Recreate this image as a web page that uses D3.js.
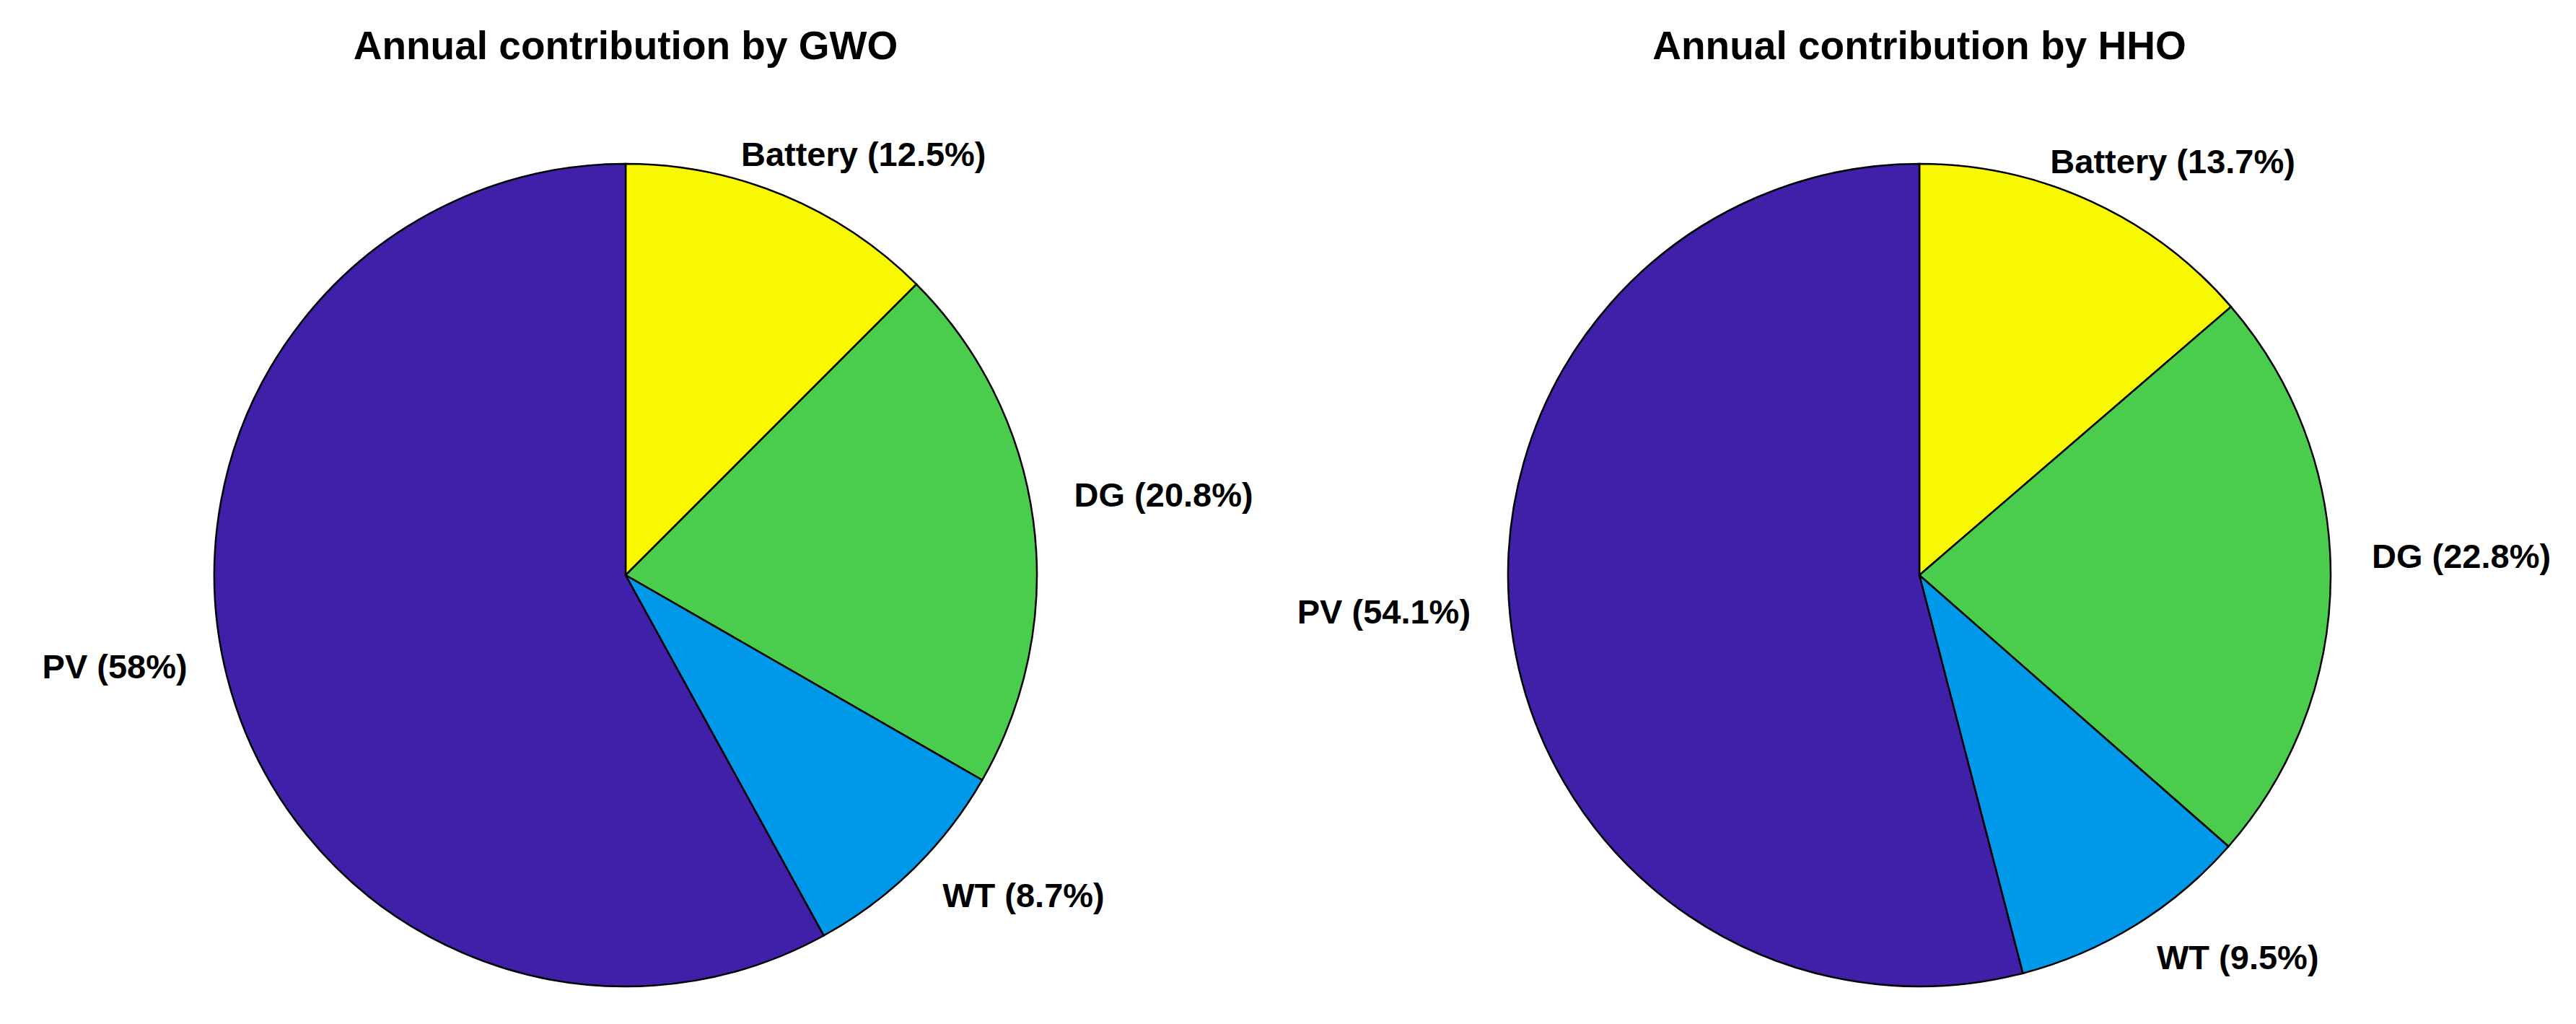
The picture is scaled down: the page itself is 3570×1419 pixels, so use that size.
<!DOCTYPE html>
<html><head><meta charset="utf-8">
<script src="https://d3js.org/d3.v7.min.js"></script>
<style>body{margin:0;background:#fff}svg{display:block}</style>
</head><body>
<script>
const categories = ["Battery", "DG", "WT", "PV"];
const gwoValues = [12.5, 20.8, 8.7, 58];
const hhoValues = [13.7, 22.8, 9.5, 54.1];
const gwoLabels = ["Battery (12.5%)", "DG (20.8%)", "WT (8.7%)", "PV (58%)"];
const hhoLabels = ["Battery (13.7%)", "DG (22.8%)", "WT (9.5%)", "PV (54.1%)"];
const titles = ["Annual contribution by GWO", "Annual contribution by HHO"];
const colors = ["#F8F800", "#4ACC4C", "#0098E8", "#4020A8"];

const W = 3570, H = 1419;
const svg = d3.select("body").append("svg").attr("width", W).attr("height", H);
const R = 570;
const color = d3.scaleOrdinal().domain(categories).range(colors);
const pie = d3.pie().sort(null).value(d => d.v);
const arc = d3.arc().innerRadius(0).outerRadius(R);

function drawPie(cx, cy, values, labels, title) {
  const g = svg.append("g").attr("transform", `translate(${cx},${cy})`);
  const data = categories.map((c, i) => ({c, v: values[i], label: labels[i]}));
  const arcs = pie(data);
  g.selectAll("path").data(arcs).join("path")
    .attr("d", arc).attr("fill", d => color(d.data.c))
    .attr("stroke", "#000").attr("stroke-width", 2.5);
  g.selectAll("text.lbl").data(arcs).join("text").attr("class", "lbl")
    .each(function(d) {
      const a = (d.startAngle + d.endAngle) / 2;
      const x = Math.sin(a) * R * 1.1, y = -Math.cos(a) * R * 1.1;
      d3.select(this).attr("x", Math.sin(a) >= 0 ? x - (Math.abs(Math.sin(a)) < 0.5 ? 80 : 0) : x)
        .attr("y", y - (Math.abs(Math.cos(a)) < 0.5 ? 25 : 0))
        .attr("text-anchor", Math.sin(a) >= 0 ? "start" : "end");
    })
    .attr("dominant-baseline", "middle")
    .attr("font-family", "Liberation Sans, Arial, sans-serif")
    .attr("font-weight", "bold").attr("font-size", 47)
    .text(d => d.data.label);
  svg.append("text").attr("x", cx).attr("y", 82).attr("text-anchor", "middle")
    .attr("font-family", "Liberation Sans, Arial, sans-serif")
    .attr("font-weight", "bold").attr("font-size", 55).text(title);
}
drawPie(867, 797, gwoValues, gwoLabels, titles[0]);
drawPie(2660, 797, hhoValues, hhoLabels, titles[1]);
</script>
</body></html>
